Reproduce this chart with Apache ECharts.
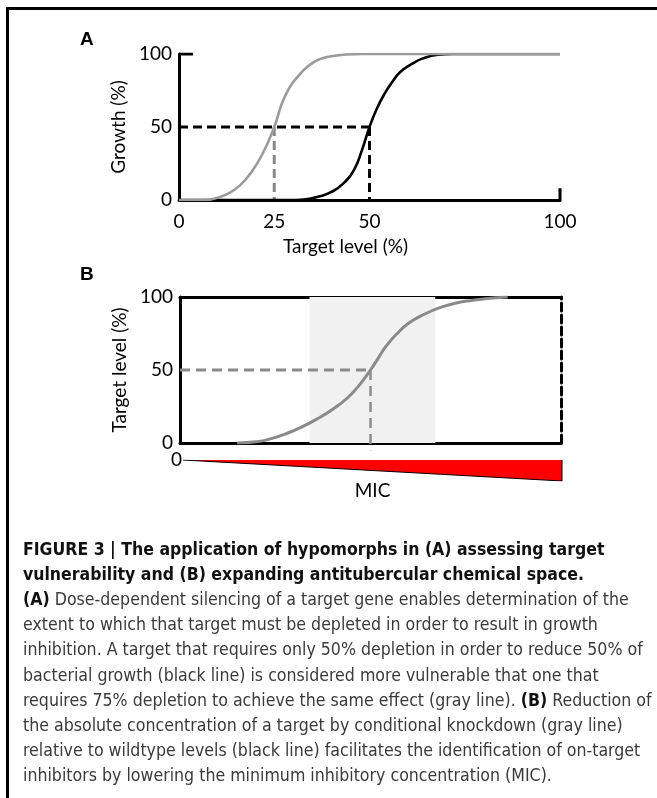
<!DOCTYPE html>
<html>
<head>
<meta charset="utf-8">
<script src="https://cdn.jsdelivr.net/npm/echarts@6/dist/echarts.min.js"></script>
<style>
  html, body { margin: 0; padding: 0; background: #fff; }
  #chart { width: 657px; height: 798px; }
</style>
</head>
<body>
<div id="chart"></div>
<script>
// panel A: growth vs target level
const xTicksA = [0, 25, 50, 100]
const yTicks = [0, 50, 100]
const grayA_x = [0, 7, 10, 13, 16, 19, 22, 25, 27, 29, 31, 34, 37, 40, 44, 48, 100]
const grayA_y = [0, 0, 1.5, 4.5, 10, 19, 32, 50, 66, 77, 84, 92, 96.5, 98.5, 99.7, 100, 100]
const blackA_x = [0, 20, 30.5, 34, 37, 40, 43, 46, 48, 50, 52, 54, 56, 58, 61, 64, 68, 72, 100]
const blackA_y = [0, 0, 0, 0.8, 2.5, 5.5, 11, 21, 34, 50, 63, 73, 81, 87.5, 93, 97, 99.5, 100, 100]

// panel B: target level vs drug concentration
const grayB_x = [15, 20, 24, 28, 32, 36, 40, 44, 47, 50, 52, 54, 57, 60, 64, 68, 72, 76, 80, 86]
const grayB_y = [0, 0.8, 3, 6.5, 11, 16.5, 23, 31, 39.5, 50, 58, 66, 75, 82, 88, 92.5, 95.5, 97.5, 98.8, 100]
const shadeB = [34, 67]
const micWedge = [[0, 0], [100, -1], [100, 0]]

const captionBold = [
  'FIGURE 3 | The application of hypomorphs in (A) assessing target',
  'vulnerability and (B) expanding antitubercular chemical space.'
]
const captionBody = [
  '{b|(A)} Dose-dependent silencing of a target gene enables determination of the',
  'extent to which that target must be depleted in order to result in growth',
  'inhibition. A target that requires only 50% depletion in order to reduce 50% of',
  'bacterial growth (black line) is considered more vulnerable that one that',
  'requires 75% depletion to achieve the same effect (gray line). {b|(B)} Reduction of',
  'the absolute concentration of a target by conditional knockdown (gray line)',
  'relative to wildtype levels (black line) facilitates the identification of on-target',
  'inhibitors by lowering the minimum inhibitory concentration (MIC).'
]

const zip = (xs, ys) => xs.map((x, i) => [x, ys[i]])

const chartFont = 'Lato'
const capFont = "'DejaVu Sans Condensed', sans-serif"
const labelStyle = { fontFamily: chartFont, fontSize: 19, color: '#000' }
const blackAxis = { onZero: false, lineStyle: { color: '#000', width: 3 } }

const chart = echarts.init(document.getElementById('chart'))

const graphic = [
  { type: 'line', shape: { x1: 7, y1: 8.5, x2: 657, y2: 8.5 }, style: { stroke: '#000', lineWidth: 3 } },
  { type: 'line', shape: { x1: 7.5, y1: 7, x2: 7.5, y2: 798 }, style: { stroke: '#000', lineWidth: 3 } },
  { type: 'text', style: { text: 'A', x: 80, y: 40, fontFamily: 'Liberation Sans', fontWeight: 'bold', fontSize: 19, fill: '#000', verticalAlign: 'middle' } },
  { type: 'text', style: { text: 'B', x: 80, y: 275, fontFamily: 'Liberation Sans', fontWeight: 'bold', fontSize: 19, fill: '#000', verticalAlign: 'middle' } }
]
captionBold.forEach((t, i) => {
  graphic.push({
    type: 'text',
    style: { text: t, x: 23, y: 550 + i * 25.2, fontFamily: capFont, fontWeight: 'bold', fontSize: 17.5, fill: '#111', verticalAlign: 'middle' }
  })
})
captionBody.forEach((t, i) => {
  graphic.push({
    type: 'text',
    style: {
      text: t, x: 23, y: 600.5 + i * 25.2, fontFamily: capFont, fontSize: 17.6, fill: '#3a3a3a', verticalAlign: 'middle',
      rich: { b: { fontFamily: capFont, fontWeight: 'bold', fontSize: 17.6, fill: '#111' } }
    }
  })
})

const lineSeries = (data, color, width, type, xi, yi, extra) => Object.assign({
  type: 'line',
  xAxisIndex: xi,
  yAxisIndex: yi,
  data: data,
  symbol: 'none',
  silent: true,
  lineStyle: { color: color, width: width, type: type }
}, extra || {})

const option = {
  animation: false,
  backgroundColor: '#fff',
  graphic: graphic,
  grid: [
    { left: 179, top: 54, width: 381, height: 146 },
    { left: 180, top: 297, width: 381, height: 146 },
    { left: 183, top: 460, width: 379, height: 21 }
  ],
  xAxis: [
    {
      gridIndex: 0, type: 'value', min: 0, max: 100,
      axisLine: blackAxis, axisTick: { show: false }, splitLine: { show: false },
      axisLabel: Object.assign({ customValues: xTicksA, margin: 12 }, labelStyle),
      name: 'Target level (%)', nameLocation: 'middle', nameGap: 37,
      nameTextStyle: Object.assign({ padding: [0, 48, 0, 0] }, labelStyle)
    },
    {
      gridIndex: 1, type: 'value', min: 0, max: 100, position: 'bottom',
      axisLine: blackAxis, axisTick: { show: false }, splitLine: { show: false }, axisLabel: { show: false }
    },
    {
      gridIndex: 1, type: 'value', min: 0, max: 100, position: 'top',
      axisLine: blackAxis, axisTick: { show: false }, splitLine: { show: false }, axisLabel: { show: false }
    },
    {
      gridIndex: 2, type: 'value', min: 0, max: 100,
      axisLine: { show: false }, axisTick: { show: false }, splitLine: { show: false }, axisLabel: { show: false },
      name: 'MIC', nameLocation: 'middle', nameGap: 0, nameTextStyle: labelStyle
    }
  ],
  yAxis: [
    {
      gridIndex: 0, type: 'value', min: 0, max: 100,
      axisLine: blackAxis, axisTick: { show: false }, splitLine: { show: false },
      axisLabel: Object.assign({ customValues: yTicks, margin: 7 }, labelStyle),
      name: 'Growth (%)', nameLocation: 'middle', nameGap: 46, nameTextStyle: labelStyle
    },
    {
      gridIndex: 1, type: 'value', min: 0, max: 100,
      axisLine: blackAxis, axisTick: { show: false }, splitLine: { show: false },
      axisLabel: Object.assign({ customValues: yTicks, margin: 7 }, labelStyle),
      name: 'Target level (%)', nameLocation: 'middle', nameGap: 46, nameTextStyle: labelStyle
    },
    {
      gridIndex: 1, type: 'value', min: 0, max: 100, position: 'right',
      axisLine: { onZero: false, lineStyle: { color: '#000', width: 3, type: [8, 4] } },
      axisTick: { show: false }, splitLine: { show: false }, axisLabel: { show: false }
    },
    {
      gridIndex: 2, type: 'value', min: -1, max: 0,
      axisLine: { show: false }, axisTick: { show: false }, splitLine: { show: false },
      axisLabel: Object.assign({ customValues: [0], margin: 1 }, labelStyle)
    }
  ],
  series: [
    // panel A guides
    lineSeries([[0, 50], [50, 50]], '#000', 3, [9, 5], 0, 0),
    lineSeries([[25, 50], [25, 0]], '#888', 3, [9, 5], 0, 0),
    lineSeries([[50, 50], [50, 0]], '#000', 3, [9, 5], 0, 0),
    lineSeries([[0, 100], [3.7, 100]], '#000', 3, 'solid', 0, 0),
    lineSeries([[100, 0], [100, 8]], '#000', 3, 'solid', 0, 0),
    // panel A curves
    lineSeries(zip(blackA_x, blackA_y), '#000', 2.6, 'solid', 0, 0, { smooth: 0.5 }),
    lineSeries(zip(grayA_x, grayA_y), '#9a9a9a', 2.6, 'solid', 0, 0, { smooth: 0.5 }),
    // panel B
    lineSeries(zip(grayB_x, grayB_y), '#8a8a8a', 3, 'solid', 1, 1, {
      smooth: 0.5, z: 3,
      markArea: {
        silent: true,
        itemStyle: { color: '#f1f1f1' },
        data: [[{ xAxis: shadeB[0] }, { xAxis: shadeB[1] }]]
      }
    }),
    lineSeries([[0, 50], [50, 50]], '#8a8a8a', 3, [10, 6], 1, 1),
    lineSeries([[50, 50], [50, -5]], '#8a8a8a', 2.5, [10, 6], 1, 1, { clip: false }),
    // MIC wedge
    lineSeries(micWedge, '#000', 1, 'solid', 3, 3, { areaStyle: { color: '#ff0000', opacity: 1 } })
  ]
}

chart.setOption(option)
</script>
</body>
</html>
